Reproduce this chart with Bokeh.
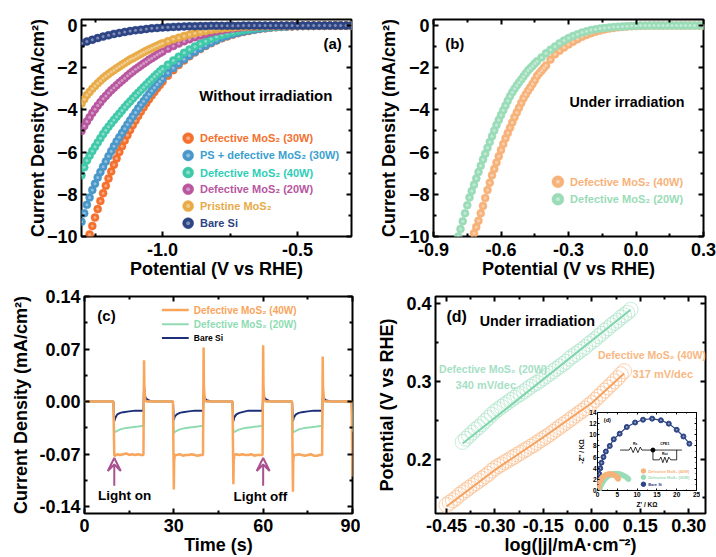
from bokeh.plotting import figure
from bokeh.models import LinearAxis, FixedTicker, Range1d, Arrow, VeeHead, Column, Row, NumeralTickFormatter
from bokeh.core.properties import value
from bokeh.embed import file_html
from bokeh.resources import INLINE

FONT = "Liberation Sans"

# ---------- panel (a) ----------
a_x = [-1.30,-1.29,-1.28,-1.27,-1.26,-1.25,-1.24,-1.23,-1.22,-1.21,-1.20,-1.19,-1.18,-1.17,-1.16,-1.15,-1.14,-1.13,-1.12,-1.11,-1.10,-1.09,-1.08,-1.07,-1.06,-1.05,-1.04,-1.03,-1.02,-1.01,-1.00,-0.98,-0.96,-0.94,-0.92,-0.90,-0.88,-0.86,-0.84,-0.82,-0.80,-0.78,-0.76,-0.74,-0.72,-0.70,-0.68,-0.66,-0.64,-0.62,-0.60,-0.58,-0.56,-0.54,-0.52,-0.50,-0.48,-0.46,-0.44,-0.42,-0.40,-0.38,-0.36,-0.34,-0.32,-0.30]
a_def30 = [-11.2,-10.75,-10.3,-9.9,-9.5,-9.1,-8.7,-8.32,-7.95,-7.6,-7.25,-6.92,-6.6,-6.3,-6.0,-5.72,-5.45,-5.2,-4.95,-4.72,-4.5,-4.29,-4.08,-3.88,-3.68,-3.5,-3.32,-3.15,-2.98,-2.82,-2.66,-2.38,-2.12,-1.88,-1.66,-1.46,-1.28,-1.12,-0.97,-0.84,-0.72,-0.61,-0.52,-0.44,-0.37,-0.31,-0.26,-0.21,-0.17,-0.14,-0.11,-0.09,-0.07,-0.06,-0.05,-0.04,-0.03,-0.03,-0.02,-0.02,-0.02,-0.01,-0.01,-0.01,-0.01,-0.01]
a_ps30 = [-9.3,-8.9,-8.5,-8.15,-7.8,-7.5,-7.2,-6.95,-6.7,-6.45,-6.2,-5.96,-5.72,-5.5,-5.3,-5.1,-4.9,-4.7,-4.5,-4.31,-4.12,-3.94,-3.76,-3.59,-3.42,-3.26,-3.1,-2.95,-2.8,-2.66,-2.52,-2.26,-2.02,-1.8,-1.6,-1.42,-1.25,-1.09,-0.95,-0.82,-0.7,-0.59,-0.5,-0.42,-0.35,-0.29,-0.24,-0.2,-0.16,-0.13,-0.1,-0.08,-0.07,-0.05,-0.04,-0.03,-0.03,-0.02,-0.02,-0.02,-0.01,-0.01,-0.01,-0.01,-0.01,-0.01]
a_def40 = [-7.1,-6.72,-6.4,-6.17,-5.95,-5.75,-5.55,-5.35,-5.15,-4.97,-4.8,-4.64,-4.48,-4.33,-4.18,-4.03,-3.88,-3.74,-3.6,-3.46,-3.32,-3.19,-3.06,-2.93,-2.8,-2.67,-2.55,-2.42,-2.3,-2.18,-2.06,-1.86,-1.66,-1.48,-1.3,-1.14,-1.0,-0.87,-0.75,-0.64,-0.54,-0.46,-0.38,-0.32,-0.26,-0.22,-0.18,-0.14,-0.11,-0.09,-0.07,-0.06,-0.05,-0.04,-0.03,-0.03,-0.02,-0.02,-0.02,-0.01,-0.01,-0.01,-0.01,-0.01,-0.01,-0.01]
a_def20 = [-5.0,-4.77,-4.55,-4.35,-4.15,-3.97,-3.8,-3.64,-3.48,-3.34,-3.2,-3.07,-2.95,-2.83,-2.72,-2.61,-2.5,-2.39,-2.28,-2.18,-2.08,-1.99,-1.9,-1.81,-1.72,-1.63,-1.55,-1.47,-1.39,-1.31,-1.24,-1.1,-0.98,-0.86,-0.75,-0.65,-0.56,-0.48,-0.41,-0.34,-0.28,-0.23,-0.19,-0.15,-0.12,-0.09,-0.07,-0.06,-0.05,-0.04,-0.03,-0.03,-0.02,-0.02,-0.02,-0.01,-0.01,-0.01,-0.01,-0.01,-0.01,-0.01,-0.01,-0.01,-0.01,-0.01]
a_pristine = [-3.7,-3.5,-3.3,-3.15,-3.0,-2.87,-2.74,-2.62,-2.5,-2.4,-2.3,-2.21,-2.12,-2.03,-1.95,-1.86,-1.78,-1.7,-1.62,-1.55,-1.48,-1.41,-1.34,-1.27,-1.2,-1.14,-1.08,-1.02,-0.96,-0.9,-0.85,-0.75,-0.66,-0.58,-0.5,-0.43,-0.37,-0.31,-0.26,-0.22,-0.18,-0.15,-0.12,-0.1,-0.08,-0.06,-0.05,-0.04,-0.03,-0.03,-0.02,-0.02,-0.02,-0.01,-0.01,-0.01,-0.01,-0.01,-0.01,-0.01,-0.01,-0.01,-0.01,-0.01,-0.01,-0.01]
a_x_bare = [-1.30,-1.28,-1.26,-1.24,-1.22,-1.20,-1.18,-1.16,-1.14,-1.12,-1.10,-1.08,-1.06,-1.04,-1.02,-1.00,-0.98,-0.96,-0.94,-0.92,-0.90,-0.88,-0.86,-0.84,-0.82,-0.80,-0.78,-0.76,-0.74,-0.72,-0.70,-0.68,-0.66,-0.64,-0.62,-0.60,-0.58,-0.56,-0.54,-0.52,-0.50,-0.48,-0.46,-0.44,-0.42,-0.40,-0.38,-0.36,-0.34,-0.32,-0.30]
a_bare = [-0.85,-0.76,-0.68,-0.6,-0.53,-0.47,-0.41,-0.36,-0.31,-0.27,-0.23,-0.2,-0.17,-0.14,-0.12,-0.1,-0.085,-0.07,-0.06,-0.05,-0.04,-0.035,-0.03,-0.03,-0.02,-0.02,-0.02,-0.02,-0.02,-0.02,-0.01,-0.01,-0.01,-0.01,-0.01,-0.01,-0.01,-0.01,-0.01,-0.01,-0.01,-0.01,-0.01,-0.01,-0.01,-0.01,-0.01,-0.01,-0.01,-0.01,-0.01]
a_names = ["Defective MoS₂ (30W)", "PS + defective MoS₂ (30W)", "Defective MoS₂ (40W)", "Defective MoS₂ (20W)", "Pristine MoS₂", "Bare Si"]
a_colors = ["#f4702e", "#4a97c9", "#3fc9a8", "#b8569f", "#e8ab47", "#2d4485"]
a_text_colors = ["#f4702e", "#3b9fd0", "#2fcdb8", "#b8569f", "#e8ab47", "#2d4485"]
a_legend_y = [-5.34, -6.16, -6.97, -7.76, -8.56, -9.37]

# ---------- panel (b) ----------
b_x_40 = [-0.74,-0.73,-0.72,-0.71,-0.70,-0.69,-0.68,-0.67,-0.66,-0.65,-0.64,-0.63,-0.62,-0.61,-0.60,-0.59,-0.58,-0.57,-0.56,-0.55,-0.54,-0.53,-0.52,-0.51,-0.50,-0.49,-0.48,-0.47,-0.46,-0.45,-0.44,-0.43,-0.42,-0.41,-0.40,-0.38,-0.36,-0.34,-0.32,-0.30,-0.28,-0.26,-0.24,-0.22,-0.20,-0.18,-0.16,-0.14,-0.12,-0.10,-0.08,-0.06,-0.04,-0.02,0.00,0.02,0.04,0.06,0.08,0.10,0.12,0.14,0.16,0.18,0.20,0.22,0.24,0.26,0.28,0.30]
b_y_40 = [-10.6,-10.2,-9.85,-9.55,-9.25,-8.9,-8.55,-8.18,-7.8,-7.45,-7.1,-6.8,-6.5,-6.2,-5.9,-5.62,-5.35,-5.1,-4.85,-4.6,-4.35,-4.12,-3.9,-3.67,-3.45,-3.27,-3.1,-2.94,-2.78,-2.6,-2.4,-2.27,-2.15,-2.02,-1.9,-1.62,-1.37,-1.2,-1.05,-0.9,-0.77,-0.65,-0.54,-0.45,-0.37,-0.3,-0.24,-0.19,-0.15,-0.12,-0.09,-0.07,-0.05,-0.04,-0.03,-0.02,-0.02,-0.01,-0.01,-0.01,-0.01,-0.01,-0.01,-0.01,-0.01,-0.01,-0.01,-0.01,-0.01,-0.01]
b_x_20 = [-0.80,-0.79,-0.78,-0.77,-0.76,-0.75,-0.74,-0.73,-0.72,-0.71,-0.70,-0.69,-0.68,-0.67,-0.66,-0.65,-0.64,-0.63,-0.62,-0.61,-0.60,-0.59,-0.58,-0.57,-0.56,-0.55,-0.54,-0.53,-0.52,-0.51,-0.50,-0.49,-0.48,-0.47,-0.46,-0.45,-0.44,-0.42,-0.40,-0.38,-0.36,-0.34,-0.32,-0.30,-0.28,-0.26,-0.24,-0.22,-0.20,-0.18,-0.16,-0.14,-0.12,-0.10,-0.08,-0.06,-0.04,-0.02,0.00,0.02,0.04,0.06,0.08,0.10,0.12,0.14,0.16,0.18,0.20,0.22,0.24,0.26,0.28,0.30]
b_y_20 = [-10.4,-10.0,-9.65,-9.28,-8.9,-8.52,-8.15,-7.85,-7.55,-7.25,-6.95,-6.65,-6.35,-6.08,-5.8,-5.52,-5.25,-4.98,-4.72,-4.48,-4.25,-4.02,-3.8,-3.57,-3.35,-3.17,-3.0,-2.85,-2.7,-2.56,-2.42,-2.28,-2.14,-2.03,-1.92,-1.81,-1.7,-1.52,-1.32,-1.15,-1.0,-0.85,-0.72,-0.6,-0.5,-0.42,-0.34,-0.28,-0.22,-0.18,-0.15,-0.12,-0.1,-0.08,-0.06,-0.05,-0.04,-0.03,-0.02,-0.01,-0.01,-0.01,-0.01,-0.01,-0.01,-0.01,-0.01,-0.01,-0.01,-0.01,-0.01,-0.01,-0.01,-0.01]

# ---------- panel (c) ----------
c_t_40 = [0,9.7,10,10.3,11,12,13,14,15,16,17,18,19,19.8,20,20.1,20.4,21,25,29.7,30,30.1,30.3,31,32,33,34,35,36,37,38,39,39.8,40,40.1,40.4,41,45,49.7,50,50.1,50.3,51,52,53,54,55,56,57,58,59,59.8,60,60.1,60.4,61,65,69.7,70,70.1,70.3,71,72,73,74,75,76,77,78,79,79.8,80,80.1,80.4,81,85,89.7,90]
c_j_40 = [0,0,-0.072,-0.072,-0.07,-0.071,-0.07,-0.069,-0.071,-0.07,-0.071,-0.07,-0.071,-0.071,0.055,0.02,0.002,0,0,0,-0.117,-0.08,-0.071,-0.071,-0.07,-0.072,-0.071,-0.071,-0.07,-0.071,-0.072,-0.071,-0.071,0.072,0.02,0.002,0,0,0,-0.11,-0.08,-0.071,-0.07,-0.071,-0.07,-0.071,-0.071,-0.07,-0.072,-0.071,-0.071,-0.071,0.075,0.02,0.002,0,0,0,-0.12,-0.08,-0.071,-0.071,-0.07,-0.071,-0.072,-0.071,-0.07,-0.072,-0.072,-0.071,-0.071,0.06,0.02,0.002,0,0,0,-0.1]
c_t_20 = [0,9.7,10,10.5,11,12,14,16,18,19.8,20,20.3,21,29.7,30,30.5,31,32,34,36,38,39.8,40,40.3,41,49.7,50,50.5,51,52,54,56,58,59.8,60,60.3,61,69.7,70,70.5,71,72,74,76,78,79.8,80,80.3,81,89.7,90]
c_j_20 = [0,0,-0.041,-0.04,-0.039,-0.037,-0.035,-0.034,-0.033,-0.032,0.004,0.001,0,0,-0.042,-0.04,-0.039,-0.037,-0.035,-0.034,-0.033,-0.032,0.004,0.001,0,0,-0.041,-0.04,-0.039,-0.037,-0.035,-0.034,-0.033,-0.032,0.004,0.001,0,0,-0.041,-0.04,-0.039,-0.037,-0.035,-0.034,-0.033,-0.032,0.004,0.001,0,0,-0.04]
c_t_bare = [0,9.7,10,10.3,11,12,13,15,17,19.8,20,20.4,21,22,23,29.7,30,30.3,31,32,33,35,37,39.8,40,40.4,41,42,43,49.7,50,50.3,51,52,53,55,57,59.8,60,60.4,61,62,63,69.7,70,70.3,71,72,73,75,77,79.8,80,80.4,81,82,83,89.7,90]
c_j_bare = [0,0,-0.026,-0.022,-0.017,-0.015,-0.014,-0.013,-0.012,-0.012,0.02,0.006,0.003,0.001,0,0,-0.025,-0.02,-0.017,-0.015,-0.014,-0.013,-0.012,-0.012,0.009,0.004,0.002,0.001,0,0,-0.026,-0.021,-0.017,-0.015,-0.014,-0.012,-0.012,-0.012,0.013,0.005,0.003,0.001,0,0,-0.026,-0.021,-0.017,-0.015,-0.014,-0.013,-0.012,-0.012,0.006,0.004,0.002,0.001,0,0,-0.03]
c_legend_x = [26, 35]
c_legend_y = [0.122, 0.103, 0.0846]

# ---------- panel (d) ----------
d_x_40 = [-0.45,-0.44,-0.43,-0.42,-0.41,-0.40,-0.39,-0.38,-0.37,-0.36,-0.35,-0.34,-0.33,-0.32,-0.31,-0.30,-0.29,-0.28,-0.27,-0.26,-0.25,-0.24,-0.23,-0.22,-0.21,-0.20,-0.19,-0.18,-0.17,-0.16,-0.15,-0.14,-0.13,-0.12,-0.11,-0.10,-0.09,-0.08,-0.07,-0.06,-0.05,-0.04,-0.03,-0.02,-0.01,0.00,0.01,0.02,0.03,0.04,0.05,0.06,0.07,0.08,0.09,0.10]
d_y_40 = [0.141,0.144,0.147,0.150,0.154,0.157,0.160,0.163,0.166,0.169,0.172,0.175,0.178,0.181,0.185,0.188,0.191,0.193,0.196,0.198,0.201,0.203,0.206,0.208,0.211,0.213,0.216,0.218,0.221,0.224,0.2265,0.229,0.232,0.235,0.238,0.241,0.244,0.247,0.250,0.253,0.256,0.259,0.262,0.265,0.269,0.272,0.276,0.280,0.284,0.288,0.292,0.296,0.300,0.304,0.309,0.313]
d_x_20 = [-0.40,-0.39,-0.38,-0.37,-0.36,-0.35,-0.34,-0.33,-0.32,-0.31,-0.30,-0.29,-0.28,-0.27,-0.26,-0.25,-0.24,-0.23,-0.22,-0.21,-0.20,-0.19,-0.18,-0.17,-0.16,-0.15,-0.14,-0.13,-0.12,-0.11,-0.10,-0.09,-0.08,-0.07,-0.06,-0.05,-0.04,-0.03,-0.02,-0.01,0.00,0.01,0.02,0.03,0.04,0.05,0.06,0.07,0.08,0.09,0.10,0.11,0.12]
d_y_20 = [0.222,0.226,0.230,0.234,0.238,0.241,0.245,0.249,0.253,0.257,0.261,0.264,0.267,0.270,0.273,0.276,0.279,0.282,0.284,0.287,0.290,0.293,0.296,0.298,0.301,0.304,0.307,0.310,0.313,0.316,0.319,0.322,0.325,0.329,0.332,0.335,0.338,0.341,0.344,0.348,0.351,0.354,0.358,0.361,0.365,0.368,0.372,0.375,0.378,0.382,0.385,0.388,0.392]
d_fit_40_x = [-0.45, -0.30, -0.15, 0.00, 0.10]
d_fit_40_y = [0.139, 0.186, 0.228, 0.272, 0.310]
d_fit_20_x = [-0.40, 0.12]
d_fit_20_y = [0.220, 0.392]

# ---------- inset ----------
i_bare_x = [0.2,0.3,0.4,0.7,1.0,1.5,2.1,3.1,4.1,5.6,7.4,9.5,11.5,13.8,16.0,18.0,20.0,21.7,23.2]
i_bare_y = [1.0,2.0,3.0,4.0,5.0,6.0,7.0,8.0,9.2,10.2,11.4,12.2,12.7,12.9,12.6,12.0,10.9,9.7,8.4]
i_40_x = [0.1,0.2,0.3,0.5,0.7,1.0,1.3,1.7,2.1,2.6,3.1,3.6,4.1,4.6,5.0,5.2]
i_40_y = [0.2,0.6,1.0,1.4,1.8,2.1,2.4,2.6,2.8,2.9,2.95,2.9,2.8,2.6,2.4,2.1]
i_20_x = [0.4,0.6,0.8,1.1,1.4,1.8,2.2,2.7,3.2,3.8,4.4,5.0,5.6,6.2,6.8,7.4,7.8]
i_20_y = [0.1,0.4,0.8,1.2,1.6,2.0,2.3,2.6,2.8,2.95,3.0,3.0,2.95,2.8,2.6,2.35,2.05]
i_wire_x = [[5.7,8.0,8.4,9.0,9.6,10.2,10.8,11.2,14.0,16.0,17.0,17.6,18.0,21.3],[14.0,14.0,15.6,16.0,16.5,17.0,17.5,18.0,18.5,20.0,20.0]]
i_wire_y = [[7.26,7.26,7.8,6.8,7.8,6.8,7.8,7.26,7.26,7.26,7.26,7.26,7.26,7.26],[7.26,5.5,5.5,6.0,5.0,6.0,5.0,6.0,5.5,5.5,7.26]]


def label(p, x, y, txt, color="black", size="10.5px", style="bold", align="left"):
    p.text([x], [y], text=[txt], text_color=color, text_font=value(FONT), text_font_size=size,
           text_font_style=style, text_baseline="middle", text_align=align)


def mirror(p, side, major, minor, lw, tin, min_in):
    # label-free mirrored ticks: only "minor" ticks, so no text is produced
    for ticks, length in ((major, tin), (minor, min_in)):
        ax = LinearAxis(ticker=FixedTicker(ticks=[], minor_ticks=ticks))
        ax.minor_tick_in = length
        ax.minor_tick_out = 0
        ax.minor_tick_line_width = lw
        ax.major_tick_in = 0
        ax.major_tick_out = 0
        ax.axis_line_color = None
        p.add_layout(ax, side)


def make(x_range, y_range, xticks, xminor, yticks, yminor, xlabel, ylabel, w, h, bl, bb, bt, br,
         tick_size="18px", label_size="18px", lw=2, tin=5, min_in=3, standoff=4, lab_standoff=4, xlab_standoff=0, xstand=5):
    p = figure(width=w, height=h, x_range=Range1d(*x_range), y_range=Range1d(*y_range),
               toolbar_location=None, output_backend="svg", x_axis_label=xlabel, y_axis_label=ylabel,
               min_border_left=bl, min_border_bottom=bb, min_border_top=bt, min_border_right=br)
    p.grid.visible = False
    p.outline_line_color = "black"
    p.outline_line_width = lw
    for ax, t, m in [(p.below[0], xticks, xminor), (p.left[0], yticks, yminor)]:
        ax.ticker = FixedTicker(ticks=t, minor_ticks=m)
        ax.major_tick_in = tin
        ax.major_tick_out = 0
        ax.minor_tick_in = min_in
        ax.minor_tick_out = 0
        ax.major_tick_line_width = lw
        ax.minor_tick_line_width = lw
        ax.axis_line_color = None
        ax.major_label_text_font = FONT
        ax.major_label_text_font_style = "bold"
        ax.major_label_text_font_size = tick_size
        ax.major_label_text_color = "black"
        ax.major_label_standoff = standoff
        ax.axis_label_text_font = FONT
        ax.axis_label_text_font_style = "bold"
        ax.axis_label_text_font_size = label_size
        ax.axis_label_text_color = "black"
        ax.axis_label_standoff = lab_standoff
    p.below[0].axis_label_standoff = xlab_standoff
    p.below[0].major_label_standoff = xstand
    mirror(p, "above", xticks, xminor, lw, tin, min_in)
    mirror(p, "right", yticks, yminor, lw, tin, min_in)
    return p


def balls(p, x, y, color, size=8, hi=3):
    p.scatter(x, y, size=size, fill_color=color, line_color=color, line_width=0.5)
    p.scatter(x, y, size=hi, fill_color="white", fill_alpha=0.4, line_color=None)


# (a)
pa = make((-1.3, -0.3), (-10, 0.28), [-1.0, -0.5], [-1.25, -0.75],
          [-10, -8, -6, -4, -2, 0], [-9, -7, -5, -3, -1],
          "Potential (V vs RHE)", "Current Density (mA/cm²)", 352, 273, 73, 45, 11, 9, lab_standoff=-4, xstand=6)
pa.below[0].formatter = NumeralTickFormatter(format="0.0")
for ys, c in zip([a_def30, a_ps30, a_def40, a_def20, a_pristine], a_colors):
    balls(pa, a_x, ys, c)
balls(pa, a_x_bare, a_bare, a_colors[5])
for name, c, tc, ly in zip(a_names, a_colors, a_text_colors, a_legend_y):
    balls(pa, [-0.905], [ly], c, size=11, hi=4)
    label(pa, -0.861, ly, name, color=tc, size="11px")
label(pa, -0.404, -0.84, "(a)", size="15px")
label(pa, -0.864, -3.32, "Without irradiation", size="15px")

# (b)
pb = make((-0.9, 0.3), (-10, 0.28), [-0.9, -0.6, -0.3, 0.0, 0.3], [-0.75, -0.45, -0.15, 0.15],
          [-10, -8, -6, -4, -2, 0], [-9, -7, -5, -3, -1],
          "Potential (V vs RHE)", "Current Density (mA/cm²)", 356, 273, 73, 45, 10, 13, lab_standoff=-3, xstand=6)
pb.below[0].formatter = NumeralTickFormatter(format="0.0")
balls(pb, b_x_40, b_y_40, "#f7b27a")
balls(pb, b_x_20, b_y_20, "#9adcb8")
for name, c, ly in zip(["Defective MoS₂ (40W)", "Defective MoS₂ (20W)"], ["#f7b27a", "#9adcb8"], [-7.41, -8.23]):
    balls(pb, [-0.347], [ly], c, size=12, hi=4)
    label(pb, -0.293, ly, name, color=c, size="11px")
label(pb, -0.848, -0.88, "(b)", size="15px")
label(pb, -0.296, -3.63, "Under irradiation", size="14.3px")

# (c)
pc = make((0, 90), (-0.149, 0.14), [0, 30, 60, 90], [15, 45, 75],
          [-0.14, -0.07, 0, 0.07, 0.14], [-0.105, -0.035, 0.035, 0.105],
          "Time (s)", "Current Density (mA/cm²)", 352, 276, 75, 44, 15, 8, lab_standoff=5)
pc.left[0].formatter = NumeralTickFormatter(format="0.00")
pc.line(c_t_bare, c_j_bare, line_color="#1c2f78", line_width=2)
pc.line(c_t_20, c_j_20, line_color="#8fdcb3", line_width=2)
pc.line(c_t_40, c_j_40, line_color="#f9a55c", line_width=2.5)
for ly, c, w in zip(c_legend_y, ["#f9a55c", "#8fdcb3", "#1c2f78"], [2.5, 2, 2]):
    pc.line(c_legend_x, [ly, ly], line_color=c, line_width=w)
label(pc, 36.7, c_legend_y[0], "Defective MoS₂ (40W)", color="#f9a55c", size="10px")
label(pc, 36.7, c_legend_y[1], "Defective MoS₂ (20W)", color="#8fdcb3", size="10px")
label(pc, 36.7, c_legend_y[2], "Bare Si", color="black", size="8.5px")
label(pc, 4.3, 0.115, "(c)", size="15px")
label(pc, 4.5, -0.125, "Light on", size="13.5px")
label(pc, 50, -0.127, "Light off", size="13.5px")
for t in (10, 60):
    pc.add_layout(Arrow(end=VeeHead(size=13, line_color="#a8528f", line_width=2, fill_color=None),
                        x_start=t, y_start=-0.112, x_end=t, y_end=-0.075,
                        line_color="#a8528f", line_width=2))

# (d)
pd = make((-0.484, 0.352), (0.13, 0.409), [-0.45, -0.30, -0.15, 0.00, 0.15, 0.30],
          [-0.375, -0.225, -0.075, 0.075, 0.225], [0.2, 0.3, 0.4], [0.15, 0.25, 0.35],
          "log(|j|/mA·cm⁻²)", "Potential (V vs RHE)", 356, 276, 75, 44, 13, 11, lab_standoff=6)
pd.below[0].formatter = NumeralTickFormatter(format="0.00")
pd.left[0].formatter = NumeralTickFormatter(format="0.0")
pd.scatter(d_x_40, d_y_40, size=15, fill_color=None, line_color="#f9b783", line_width=0.7, line_alpha=0.9)
pd.line(d_fit_40_x, d_fit_40_y, line_color="#f5a15e", line_width=2)
pd.scatter(d_x_20, d_y_20, size=15, fill_color=None, line_color="#a5e0c4", line_width=0.7, line_alpha=0.9)
pd.line(d_fit_20_x, d_fit_20_y, line_color="#7fd5ab", line_width=2)
label(pd, -0.45, 0.383, "(d)", size="16px")
label(pd, -0.347, 0.377, "Under irradiation", size="14.3px")
label(pd, -0.473, 0.316, "Defective MoS₂ (20W)", color="#a5e0c4", size="10.5px")
label(pd, -0.422, 0.295, "340 mV/dec", color="#a5e0c4", size="11px")
label(pd, 0.019, 0.334, "Defective MoS₂ (40W)", color="#f9b783", size="10.5px")
label(pd, 0.126, 0.309, "317 mV/dec", color="#f9b783", size="11px")

# inset
pi = make((0, 25), (0, 14), [0, 5, 10, 15, 20, 25], [2.5, 7.5, 12.5, 17.5, 22.5],
          [0, 2, 4, 6, 8, 10, 12, 14], [1, 3, 5, 7, 9, 11, 13],
          "Z' / KΩ", "-Z'' / KΩ", 125, 105, 22, 19, 7, 4,
          tick_size="6.5px", label_size="6.5px", lw=1, tin=2, min_in=1, standoff=1, lab_standoff=1, xlab_standoff=1, xstand=1)
pi.margin = (-152, 0, 0, 567)
pi.border_fill_color = None
pi.background_fill_color = "white"
pi.line(i_bare_x, i_bare_y, line_color="#2d4485", line_width=1.2)
pi.scatter(i_bare_x, i_bare_y, size=5, fill_color="#2d4485", line_color="#2d4485")
pi.scatter(i_bare_x, i_bare_y, size=2, fill_color="white", fill_alpha=0.5, line_color=None)
pi.scatter(i_20_x, i_20_y, size=5, fill_color="#9adcb8", line_color="#9adcb8")
pi.scatter(i_40_x, i_40_y, size=5, fill_color="#f7b27a", line_color="#f7b27a")
pi.multi_line(i_wire_x, i_wire_y, line_color="black", line_width=0.8)
pi.scatter([14.0], [7.26], size=4, fill_color="black", line_color="black")
label(pi, 1.6, 12.6, "(d)", size="5.5px")
label(pi, 9.5, 8.3, "Rs", size="3.5px", align="center")
label(pi, 17, 8.3, "CPE1", size="3.5px", align="center")
label(pi, 17, 6.6, "Rct", size="3.5px", align="center")
for ly, name, c in zip([3.5, 2.37, 1.12], ["Defective MoS₂ (40W)", "Defective MoS₂ (20W)", "Bare Si"], ["#f7b27a", "#9adcb8", "#2d4485"]):
    pi.scatter([11.6], [ly], size=4.5, fill_color=c, line_color=c)
    label(pi, 12.8, ly, name, color=c, size="4px")

top = Row(children=[pa, pb], spacing=0)
bottom = Row(children=[pc, pd], spacing=0)
root = Column(children=[top, bottom, pi], spacing=0, margin=(8, 0, 0, 8))
open("out.html", "w").write(file_html(root, INLINE))
